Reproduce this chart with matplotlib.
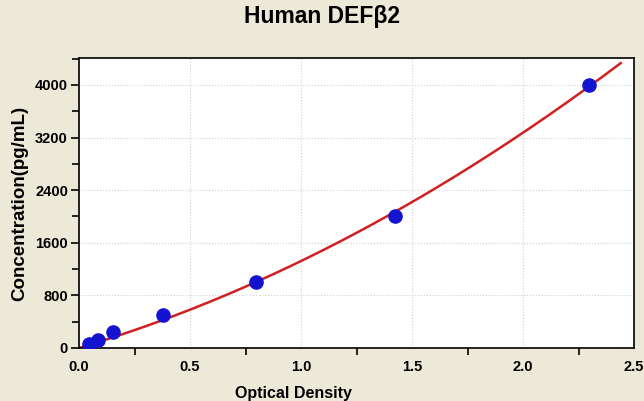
import numpy as np
import matplotlib.pyplot as plt
from matplotlib.ticker import MultipleLocator

# standard curve readings
od = [0.045, 0.086, 0.153, 0.378, 0.797, 1.423, 2.297]
conc = [62.5, 125, 250, 500, 1000, 2000, 4000]

plt.rcParams['font.family'] = ['Liberation Sans', 'DejaVu Sans']
plt.rcParams['font.weight'] = 'bold'

bg = '#ECE9D8'
fig = plt.figure(figsize=(6.44, 4.01), dpi=100, facecolor=bg)
ax = fig.add_axes([0.1227, 0.1322, 0.8618, 0.7232])
ax.set_facecolor('white')

# fit conc = a*x + b*x^2 through the origin
x = np.array(od)
A = np.column_stack([x, x ** 2])
a, b = np.linalg.lstsq(A, np.array(conc), rcond=None)[0]
xs = np.linspace(0, 2.44, 200)
ax.plot(xs, a * xs + b * xs ** 2, color='#D02020', lw=1.8, zorder=2)
ax.plot(od, conc, 'o', color='#1414D0', ms=9.5, zorder=3)

ax.set_xlim(0, 2.5)
ax.set_ylim(0, 4410)
ax.xaxis.set_major_locator(MultipleLocator(0.5))
ax.xaxis.set_minor_locator(MultipleLocator(0.25))
ax.yaxis.set_major_locator(MultipleLocator(800))
ax.yaxis.set_minor_locator(MultipleLocator(400))
ax.xaxis.set_major_formatter(plt.FuncFormatter(lambda v, p: f'{v:.1f}'))
ax.grid(True, which='major', color='#D0D0D0', ls=':', lw=0.8)
ax.tick_params(axis='y', which='major', direction='out', length=6, width=1.2, labelsize=10.5, pad=2)
ax.tick_params(axis='y', which='minor', direction='out', length=5, width=1.2)
ax.tick_params(axis='x', which='major', direction='out', length=0, labelsize=10.5, pad=9)
ax.tick_params(axis='x', which='minor', direction='out', length=5, width=1.2)
for lab in ax.get_xticklabels() + ax.get_yticklabels():
    lab.set_fontweight('bold')
for s in ax.spines.values():
    s.set_linewidth(1.2)

ax.set_ylabel('Concentration(pg/mL)', fontsize=13.5, fontweight='bold', labelpad=5)
fig.text(0.455, 0.0, 'Optical Density', ha='center', va='bottom', fontsize=11.5, fontweight='bold')
fig.text(0.5, 0.958, 'Human DEFβ2', ha='center', va='center', fontsize=16.5, fontweight='bold')

fig.savefig('out.png', dpi=100, facecolor=bg)
